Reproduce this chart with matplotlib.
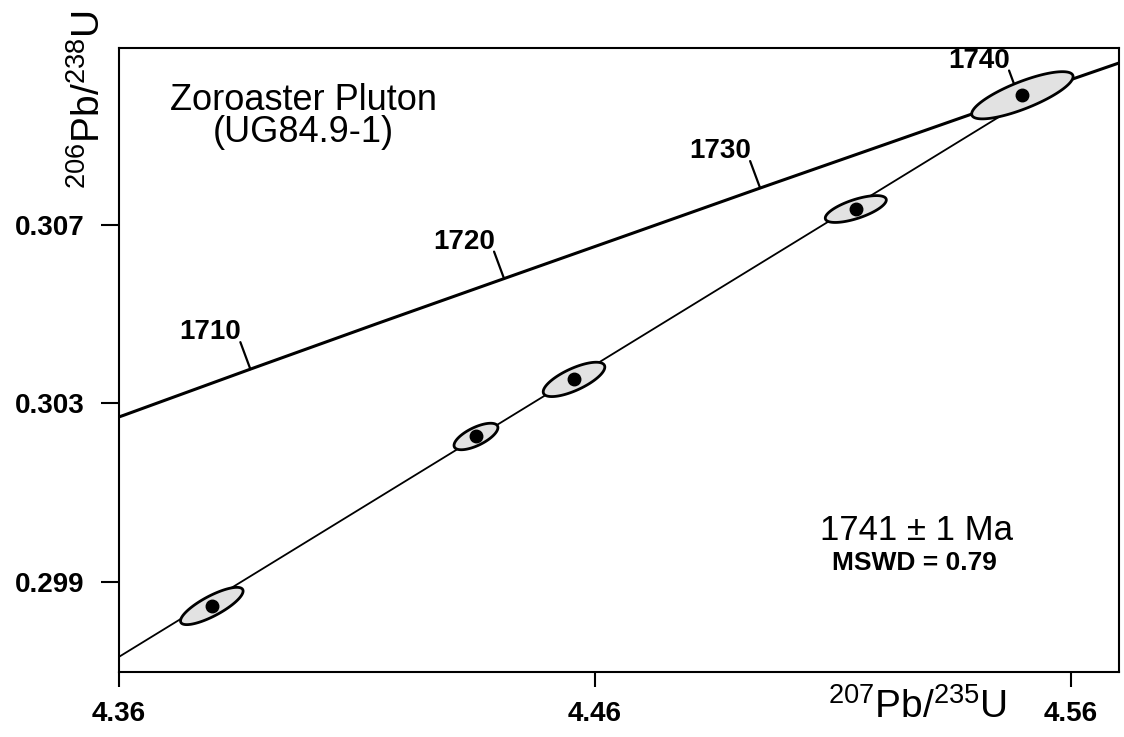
import matplotlib
matplotlib.use('Agg')
import matplotlib.pyplot as plt
import numpy as np

plt.rcParams['font.family'] = ['Liberation Sans', 'DejaVu Sans']
plt.rcParams['mathtext.fontset'] = 'custom'
plt.rcParams['mathtext.rm'] = 'Liberation Sans'
plt.rcParams['mathtext.default'] = 'rm'

# concordia curve (age in Ma, 207Pb/235U, 206Pb/238U)
conc_age = [1700, 1705, 1710, 1715, 1720, 1725, 1730, 1735, 1740, 1745]
conc_x = [4.3348, 4.3611, 4.3876, 4.4142, 4.4409, 4.4677, 4.4947, 4.5218, 4.5491, 4.5765]
conc_y = [0.30175, 0.30274, 0.30377, 0.30479, 0.30580, 0.30681, 0.30783, 0.30884, 0.30986, 0.31087]
label_ages = [1710, 1720, 1730, 1740]

# discordia line
disc_x = [4.36, 4.5546]
disc_y = [0.29732, 0.31006]

# analyses: centre, half-widths of the error ellipses, correlation
pt_x = [4.3795, 4.4350, 4.4556, 4.5148, 4.5498]
pt_y = [0.29846, 0.30226, 0.30354, 0.30736, 0.30991]
err_x = [0.00657, 0.00461, 0.00647, 0.00641, 0.01065]
err_y = [0.000418, 0.000297, 0.000385, 0.000301, 0.000529]
rho = [0.80, 0.67, 0.72, 0.675, 0.79]

x_ticks = [4.36, 4.46, 4.56]
y_ticks = [0.299, 0.303, 0.307]

W, H = 1124, 737
fig = plt.figure(figsize=(W / 100, H / 100), dpi=100)
ax = fig.add_axes([119 / W, 65 / H, 1000 / W, 624 / H])

ax.plot(conc_x, conc_y, color='black', lw=2.2, zorder=2, solid_capstyle='butt')
ax.plot(disc_x, disc_y, color='black', lw=1.3, zorder=2)

t = np.linspace(0, 2 * np.pi, 200)
for cx, cy, sx, sy, r in zip(pt_x, pt_y, err_x, err_y, rho):
    ex = cx + sx * np.cos(t)
    ey = cy + sy * (r * np.cos(t) + np.sqrt(1 - r ** 2) * np.sin(t))
    ax.fill(ex, ey, facecolor='#e2e2e2', edgecolor='black', lw=2.0, zorder=3)
ax.plot(pt_x, pt_y, 'o', color='black', ms=9, zorder=4)

for age in label_ages:
    i = conc_age.index(age)
    ax.annotate('', xy=(conc_x[i], conc_y[i]), xytext=(-10, 27),
                textcoords='offset pixels',
                arrowprops=dict(arrowstyle='-', lw=1.6, color='black',
                                shrinkA=0, shrinkB=0), zorder=2.5)
    ax.annotate(str(age), xy=(conc_x[i], conc_y[i]), xytext=(-40, 37),
                textcoords='offset pixels', ha='center', va='center',
                fontsize=20, fontweight='bold')

ax.set_xlim(4.36, 4.5701)
ax.set_ylim(0.29698, 0.31097)
ax.set_xticks(x_ticks)
ax.set_xticklabels(['%.2f' % v for v in x_ticks])
ax.set_yticks(y_ticks)
ax.set_yticklabels(['%.3f' % v for v in y_ticks])
ax.tick_params(axis='x', direction='out', length=11, width=1.5, pad=10, labelsize=20)
ax.tick_params(axis='y', direction='out', length=13, width=1.5, pad=12, labelsize=20)
for lbl in ax.get_xticklabels() + ax.get_yticklabels():
    lbl.set_fontweight('bold')
for s in ax.spines.values():
    s.set_linewidth(1.5)

fig.text(303 / W, 1 - 110 / H, 'Zoroaster Pluton', ha='center', va='baseline', fontsize=26)
fig.text(303 / W, 1 - 142 / H, '(UG84.9-1)', ha='center', va='baseline', fontsize=26)
fig.text(917 / W, 1 - 540 / H, '1741 \u00b1 1 Ma', ha='center', va='baseline', fontsize=25)
fig.text(914 / W, 1 - 570 / H, 'MSWD = 0.79', ha='center', va='baseline',
         fontsize=19, fontweight='bold')

fig.text(918 / W, 1 - 718 / H, r'$^{207}$Pb/$^{235}$U', ha='center', va='baseline', fontsize=28)
fig.text(89 / W, 1 - 99 / H, r'$^{206}$Pb/$^{238}$U', ha='center', va='center',
         rotation=90, fontsize=28)

fig.savefig('out.png', dpi=100)
